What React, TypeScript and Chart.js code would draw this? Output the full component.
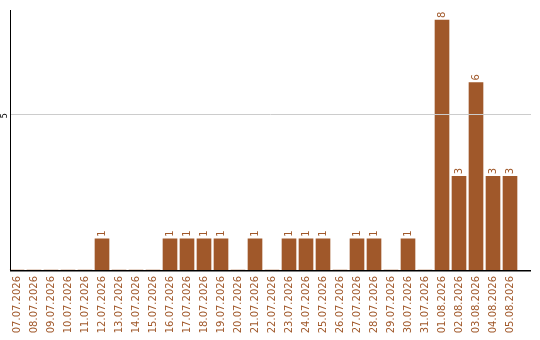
import React, { useEffect, useRef } from "react";
import { Chart, registerables } from "chart.js";

Chart.register(...registerables);

const dates = [
  "07.07.2026", "08.07.2026", "09.07.2026", "10.07.2026", "11.07.2026",
  "12.07.2026", "13.07.2026", "14.07.2026", "15.07.2026", "16.07.2026",
  "17.07.2026", "18.07.2026", "19.07.2026", "20.07.2026", "21.07.2026",
  "22.07.2026", "23.07.2026", "24.07.2026", "25.07.2026", "26.07.2026",
  "27.07.2026", "28.07.2026", "29.07.2026", "30.07.2026", "31.07.2026",
  "01.08.2026", "02.08.2026", "03.08.2026", "04.08.2026", "05.08.2026",
];

const counts = [
  0, 0, 0, 0, 0,
  1, 0, 0, 0, 1,
  1, 1, 1, 0, 1,
  0, 1, 1, 1, 0,
  1, 1, 0, 1, 0,
  8, 3, 6, 3, 3,
];

const yTicks = [5];

const BAR_COLOR = "#a0582a";
const FONT = "DejaVu Sans";

const decorations = {
  id: "decorations",
  afterDatasetsDraw(chart: any) {
    const { ctx, scales, chartArea } = chart;
    const x = scales.x;
    const y = scales.y;
    const axisLeft = 10;
    const axisRight = 531;
    const bottom = y.getPixelForValue(0);

    ctx.save();
    // horizontal grid lines
    ctx.strokeStyle = "#cccccc";
    ctx.lineWidth = 1;
    yTicks.forEach((t) => {
      const py = Math.round(y.getPixelForValue(t)) + 0.5;
      ctx.beginPath();
      ctx.moveTo(axisLeft, py);
      ctx.lineTo(axisRight, py);
      ctx.stroke();
    });

    // axes
    ctx.strokeStyle = "#000000";
    ctx.beginPath();
    ctx.moveTo(axisLeft + 0.5, chartArea.top);
    ctx.lineTo(axisLeft + 0.5, Math.round(bottom) + 1);
    ctx.stroke();
    ctx.lineWidth = 1.5;
    ctx.beginPath();
    ctx.moveTo(axisLeft, Math.round(bottom) + 0.75);
    ctx.lineTo(axisRight, Math.round(bottom) + 0.75);
    ctx.stroke();

    // y tick labels
    ctx.fillStyle = "#000000";
    ctx.font = `8px "${FONT}"`;
    yTicks.forEach((t) => {
      const py = y.getPixelForValue(t);
      ctx.save();
      ctx.translate(5, py + 2);
      ctx.rotate(-Math.PI / 2);
      ctx.textAlign = "center";
      ctx.textBaseline = "middle";
      ctx.fillText(String(t), 0, 0);
      ctx.restore();
    });

    // x labels
    ctx.fillStyle = BAR_COLOR;
    ctx.font = `10px "${FONT}"`;
    dates.forEach((d, i) => {
      const px = x.getPixelForValue(i);
      ctx.save();
      ctx.translate(px, bottom + 6);
      ctx.rotate(-Math.PI / 2);
      ctx.textAlign = "right";
      ctx.textBaseline = "middle";
      ctx.fillText(d, 0, 0);
      ctx.restore();
    });

    // value labels above bars
    counts.forEach((v, i) => {
      if (!v) return;
      const px = x.getPixelForValue(i);
      const py = y.getPixelForValue(v);
      ctx.save();
      ctx.translate(px, py - 2);
      ctx.rotate(-Math.PI / 2);
      ctx.textAlign = "left";
      ctx.textBaseline = "middle";
      ctx.fillText(String(v), 0, 0);
      ctx.restore();
    });
    ctx.restore();
  },
};

export default function App() {
  const canvasRef = useRef<HTMLCanvasElement | null>(null);

  useEffect(() => {
    if (!canvasRef.current) return;
    const chart = new Chart(canvasRef.current, {
      type: "bar",
      data: {
        labels: dates,
        datasets: [
          {
            data: counts,
            backgroundColor: BAR_COLOR,
            borderWidth: 0,
            barThickness: 14,
          },
        ],
      },
      options: {
        animation: false,
        responsive: false,
        maintainAspectRatio: false,
        layout: { padding: { left: 8.5, right: 21.5, top: 10, bottom: 70 } },
        plugins: {
          legend: { display: false },
          tooltip: { enabled: false },
        },
        scales: {
          x: { display: false },
          y: { display: false, min: 0, max: 8.32 },
        },
      },
      plugins: [decorations],
    });
    return () => chart.destroy();
  }, []);

  return (
    <div style={{ position: "fixed", left: 0, top: 0, width: 540, height: 340, background: "#fff" }}>
      <canvas ref={canvasRef} width={540} height={340} />
    </div>
  );
}
